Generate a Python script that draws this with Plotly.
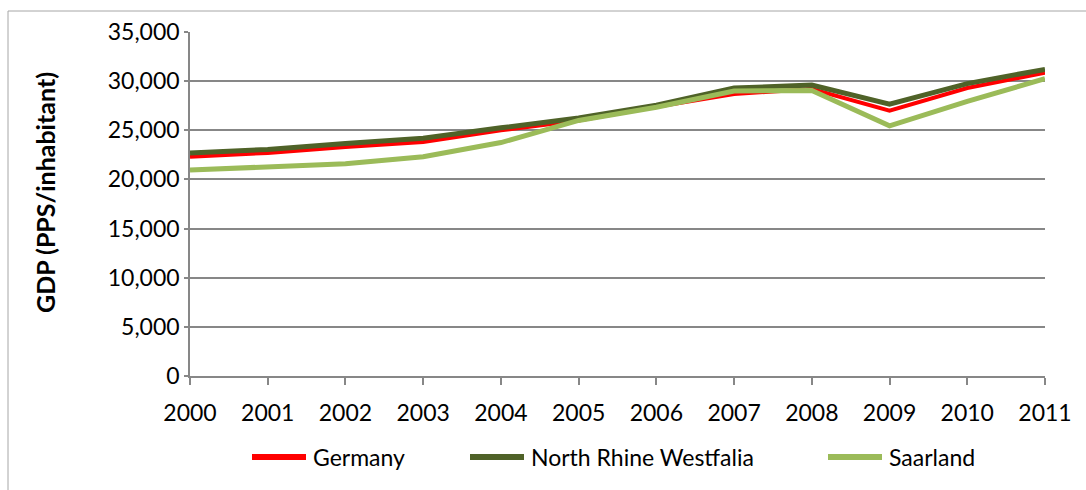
import plotly.graph_objects as go

# GDP per inhabitant in purchasing power standards
years = [2000, 2001, 2002, 2003, 2004, 2005, 2006, 2007, 2008, 2009, 2010, 2011]
germany = [22300, 22700, 23300, 23800, 25000, 26000, 27400, 28700, 29200, 27000, 29300, 30850]
nrw = [22700, 23050, 23650, 24200, 25250, 26250, 27550, 29300, 29600, 27650, 29750, 31200]
saarland = [20950, 21300, 21600, 22300, 23750, 26000, 27350, 29000, 29050, 25450, 27950, 30250]

series_names = ["Germany", "North Rhine Westfalia", "Saarland"]
series_colors = ["#FF0000", "#4F6228", "#9BBB59"]
series_widths = [4, 5, 5]

y_ticks = [0, 5000, 10000, 15000, 20000, 25000, 30000, 35000]

FONT = "Lato, 'Liberation Sans', Arial, sans-serif"
GRID = "#878787"

W, H = 1086, 490
L, R, T, B = 190, 41, 32, 114
pw, ph = W - L - R, H - T - B


def px_x(p):
    return (p - L) / pw


def px_y(p):
    return (H - B - p) / ph


fig = go.Figure()
for name, vals, col, wd in zip(series_names, [germany, nrw, saarland], series_colors, series_widths):
    fig.add_trace(go.Scatter(x=years, y=vals, name=name, mode="lines",
                             line=dict(color=col, width=wd), showlegend=False))

# light frame around the whole chart block
fig.add_shape(type="rect", xref="paper", yref="paper",
              x0=px_x(8), x1=px_x(W + 20), y0=px_y(H + 20), y1=px_y(11),
              line=dict(color="#a6a6a6", width=1), fillcolor="rgba(0,0,0,0)",
              layer="below")

# legend row below the axis: line sample followed by the series name
legend_starts = [252, 470, 828]
sample_len = 54
legend_y = px_y(457)
for name, col, x0 in zip(series_names, series_colors, legend_starts):
    fig.add_shape(type="line", xref="paper", yref="paper",
                  x0=px_x(x0), x1=px_x(x0 + sample_len), y0=legend_y, y1=legend_y,
                  line=dict(color=col, width=6))
    fig.add_annotation(xref="paper", yref="paper", x=px_x(x0 + sample_len + 5), y=legend_y,
                       text=name, showarrow=False, xanchor="left", yanchor="middle",
                       font=dict(family=FONT, size=23, color="black"))

# vertical axis title
fig.add_annotation(xref="paper", yref="paper", x=px_x(45), y=px_y(193),
                   text="<b>GDP (PPS/inhabitant)</b>", textangle=-90, showarrow=False,
                   xanchor="center", yanchor="middle",
                   font=dict(family=FONT, size=25, color="black"))

fig.update_layout(
    width=W, height=H,
    margin=dict(l=L, r=R, t=T, b=B),
    paper_bgcolor="white", plot_bgcolor="white",
    font=dict(family=FONT, size=23, color="black"),
    showlegend=False,
    xaxis=dict(
        range=[2000, 2011], tickmode="array", tickvals=years,
        ticktext=[str(y) for y in years],
        showgrid=False, showline=True, linecolor=GRID, linewidth=1.5,
        ticks="outside", ticklen=7, tickcolor=GRID, tickwidth=1.5,
        ticklabelstandoff=9, tickfont=dict(family=FONT, size=23),
        zeroline=False, fixedrange=True,
    ),
    yaxis=dict(
        range=[0, 35000], tickmode="array", tickvals=y_ticks,
        ticktext=[f"{v:,}" for v in y_ticks],
        showgrid=True, gridcolor=GRID, gridwidth=1.5,
        showline=True, linecolor=GRID, linewidth=1.5,
        ticks="outside", ticklen=4, tickcolor=GRID, tickwidth=1.5,
        tickfont=dict(family=FONT, size=23),
        zeroline=False, fixedrange=True,
    ),
)

fig.write_html("out.html")
